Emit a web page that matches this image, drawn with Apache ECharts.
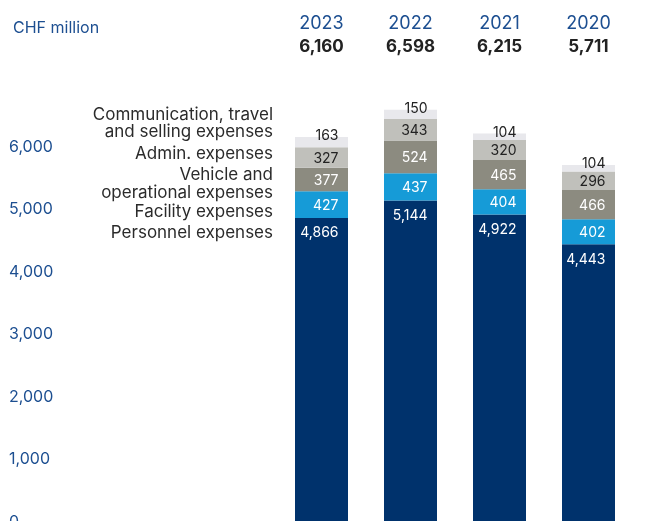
<!DOCTYPE html>
<html>
<head>
<meta charset="utf-8">
<script src="https://cdn.jsdelivr.net/npm/echarts@6/dist/echarts.min.js"></script>
<style>
  html, body { margin: 0; padding: 0; background: #fff; }
  #main { width: 670px; height: 521px; }
</style>
</head>
<body>
<div id="main"></div>
<script>
// years, left to right
var years = ['2023', '2022', '2021', '2020'];
// expense categories (bottom to top of the stack)
var seriesNames = ['Personnel expenses', 'Facility expenses', 'Vehicle and\noperational expenses', 'Admin. expenses', 'Communication, travel\nand selling expenses'];
var personnel = [4866, 5144, 4922, 4443];
var facility = [427, 437, 404, 402];
var vehicle = [377, 524, 465, 466];
var admin = [327, 343, 320, 296];
var communication = [163, 150, 104, 104];
var yTicks = [0, 1000, 2000, 3000, 4000, 5000, 6000];

var FONT = 'Inter';
var BLUE = '#1d4f91';
var colors = ['#00326c', '#169bd7', '#8c8b80', '#c0c0bb', '#e8e8ec'];
var values = [personnel, facility, vehicle, admin, communication];

var totals = years.map(function (y, i) {
    var s = 0;
    values.forEach(function (arr) { s += arr[i]; });
    return s;
});

function fmt(v) {
    return v.toLocaleString('en-US');
}

var chart = echarts.init(document.getElementById('main'));

var series = values.map(function (arr, k) {
    var label = {
        show: true,
        fontFamily: FONT,
        fontSize: 14,
        color: k >= 3 ? '#222' : '#fff',
        align: 'right',
        offset: [17, 0],
        formatter: function (p) { return fmt(p.value); }
    };
    if (k === 0) {
        label.position = 'insideTop';
        label.distance = 8;
    } else if (k === 4) {
        label.position = 'top';
        label.distance = -6;
    } else {
        label.position = 'inside';
        label.offset = [17, 1];
    }
    return {
        name: seriesNames[k],
        type: 'bar',
        stack: 'total',
        barWidth: 53,
        xAxisIndex: 0,
        itemStyle: { color: colors[k] },
        label: label,
        data: arr
    };
});

// legend names beside the first bar
var legendY = [233, 212, 184, 154, 123.5];
var graphics = seriesNames.map(function (n, k) {
    return {
        type: 'text',
        right: 670 - 273,
        top: legendY[k] - (n.indexOf('\n') >= 0 ? 17.5 : 9),
        style: {
            text: n,
            fill: '#2b2b2b',
            font: '17px ' + FONT,
            textAlign: 'right',
            lineHeight: 17.5
        }
    };
});

chart.setOption({
    animation: false,
    title: {
        text: 'CHF million',
        left: 8,
        top: 15,
        textStyle: { fontFamily: FONT, fontSize: 16, fontWeight: 'normal', color: BLUE }
    },
    grid: { left: 277, right: 37, top: 84.5, bottom: -1, containLabel: false, outerBoundsMode: 'none' },
    xAxis: [{
        type: 'category',
        data: years,
        axisLine: { show: false },
        axisTick: { show: false },
        axisLabel: { show: false }
    }, {
        type: 'category',
        position: 'top',
        data: years,
        axisLine: { show: false },
        axisTick: { show: false },
        axisLabel: {
            margin: 26,
            formatter: function (v, i) {
                return '{y|' + v + '}\n{t|' + fmt(totals[i]) + '}';
            },
            rich: {
                y: { fontFamily: FONT, fontSize: 18, color: BLUE, lineHeight: 23 },
                t: { fontFamily: FONT, fontSize: 17, fontWeight: 'bold', color: '#222', lineHeight: 23 }
            }
        }
    }],
    yAxis: {
        type: 'value',
        min: 0,
        max: 7000,
        interval: 1000,
        splitLine: { show: false },
        axisLine: { show: false },
        axisTick: { show: false },
        axisLabel: {
            margin: 268,
            align: 'left',
            fontFamily: FONT,
            fontSize: 16,
            color: BLUE,
            formatter: function (v) {
                return yTicks.indexOf(v) >= 0 ? fmt(v) : '';
            }
        }
    },
    graphic: graphics,
    series: series
});
</script>
</body>
</html>
